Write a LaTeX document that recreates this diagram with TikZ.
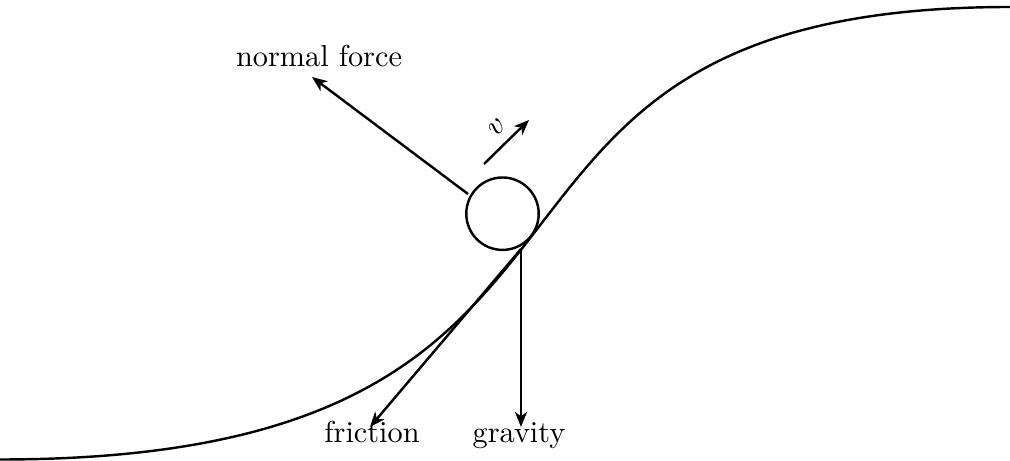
\documentclass[tikz,border=0pt]{standalone}
\usetikzlibrary{arrows.meta}
\begin{document}
\begin{tikzpicture}[x=0.33pt,y=-0.33pt,line width=0.8pt,
  lbl/.style={anchor=base,inner sep=0pt},
  force/.style={-{Stealth[length=5pt,width=4pt,inset=1.5pt]}}]
\useasboundingbox (0,0) rectangle (1010,461);
% track
\coordinate (tl) at (0,459.5);
\coordinate (tr) at (1010,7);
\draw (tl) .. controls (698,459.5) and (389,7) .. (tr);
% ball
\node[circle,draw,minimum size=23.9pt,inner sep=0pt] (ball) at (502.5,213.7) {};
% points
\coordinate (c) at (521,249);
\coordinate (ns) at (468,194);
\coordinate (vs) at (484,164);
\coordinate (ve) at (529,120);
% labels
\node[lbl] (nf) at (319,67) {normal force};
\node[lbl] (fr) at (372,443) {friction};
\node[lbl] (gr) at (519,443) {gravity};
% forces
\draw[force] (ns) -- (312,77) coordinate (nt);
\draw[force] (c) -- (521,427) coordinate (gt);
\draw[force] (c) -- (370,427) coordinate (ft);
\draw[force] (vs) -- node[pos=0.55,above,sloped,inner sep=3pt] (vl) {$v$} (ve);
\end{tikzpicture}
\end{document}
